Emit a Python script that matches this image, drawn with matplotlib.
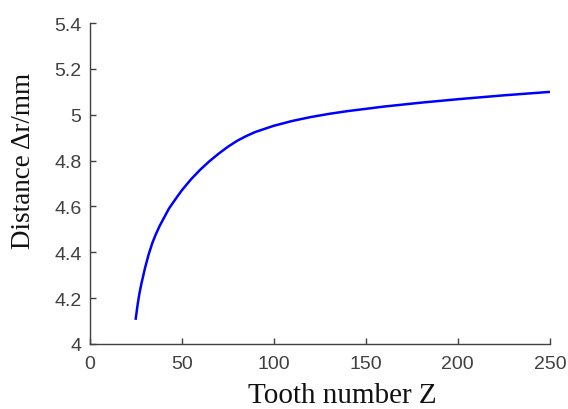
import matplotlib
matplotlib.use("Agg")
import matplotlib.pyplot as plt

# values
tooth_z = [25, 26, 27, 28, 30, 32, 34, 36, 38, 40, 43, 46, 50, 55, 60,
           65, 70, 75, 80, 85, 90, 100, 110, 120, 130, 140, 160, 180, 200,
           225, 250]
distance = [4.11, 4.17, 4.22, 4.26, 4.33, 4.39, 4.44, 4.48, 4.515, 4.545,
            4.59, 4.625, 4.67, 4.718, 4.76, 4.797, 4.83, 4.86, 4.886, 4.907,
            4.925, 4.952, 4.973, 4.99, 5.004, 5.016, 5.036, 5.053, 5.068,
            5.085, 5.10]

xticks = [0, 50, 100, 150, 200, 250]
yticks = [4, 4.2, 4.4, 4.6, 4.8, 5, 5.2, 5.4]
ytick_labels = ["4", "4.2", "4.4", "4.6", "4.8", "5", "5.2", "5.4"]

fig = plt.figure(figsize=(5.68, 4.10), dpi=100)
ax = fig.add_axes([0.158, 0.159, 0.81, 0.782])

ax.plot(tooth_z, distance, color="#0000ff", lw=1.8)

ax.set_xlim(0, 250)
ax.set_ylim(4, 5.4)
ax.set_xticks(xticks)
ax.set_yticks(yticks)
ax.set_yticklabels(ytick_labels)

for side in ("top", "right"):
    ax.spines[side].set_visible(False)
for side in ("left", "bottom"):
    ax.spines[side].set_color("#404040")
    ax.spines[side].set_linewidth(1.0)

ax.tick_params(direction="in", length=4, width=1.0, color="#404040",
               labelcolor="#404040", labelsize=14)
ax.tick_params(axis="x", pad=8)
ax.tick_params(axis="y", pad=6)
for lab in ax.get_xticklabels() + ax.get_yticklabels():
    lab.set_family("Liberation Sans")

ax.set_xlabel("Tooth number Z", family="Liberation Serif", fontsize=21,
              color="#111111", va="center")
ax.xaxis.set_label_coords(0.548, -0.159)
ax.set_ylabel("Distance \u0394r/mm", family="Liberation Serif", fontsize=19.5,
              color="#111111", va="center")
ax.yaxis.set_label_coords(-0.145, 0.575)

fig.savefig("out.png", dpi=100)
